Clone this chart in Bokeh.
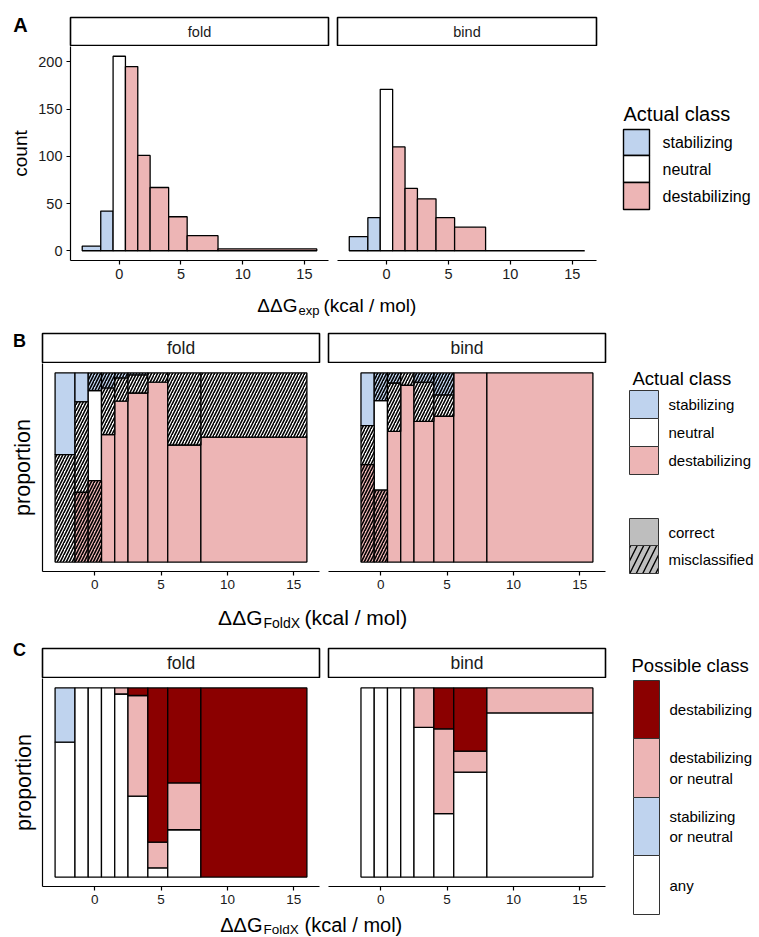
import numpy as np
from bokeh.plotting import figure
from bokeh.layouts import row, column
from bokeh.models import Range1d, FixedTicker, ColumnDataSource
from bokeh.embed import file_html
from bokeh.resources import INLINE
from bokeh.core.properties import value

FONT = "Liberation Sans"
BLUE = "#BFD3EE"
PINK = "#EDB5B5"
DARK = "#8B0000"
WHITE = "#FFFFFF"
GRAY = "#BEBEBE"

# ---------------- data ----------------
bin_left = [-3.0, -1.5, -0.5, 0.5, 1.5, 2.5, 4.0, 5.5, 8.0]
bin_right = [-1.5, -0.5, 0.5, 1.5, 2.5, 4.0, 5.5, 8.0, 16.0]
bin_class = ["stabilizing", "stabilizing", "neutral",
             "destabilizing", "destabilizing", "destabilizing",
             "destabilizing", "destabilizing", "destabilizing"]

# panel A: histogram counts of experimental ddG
count_fold = [5, 42, 206, 195, 101, 67, 36, 16, 2]
count_bind = [15, 35, 171, 110, 66, 55, 35, 25, 0]
count_ticks = [0, 50, 100, 150, 200]
x_ticks = [0, 5, 10, 15]

# panel B: proportion of actual class within FoldX bins
actual_classes = ["destabilizing", "neutral", "stabilizing"]   # bottom -> top
fold_stabilizing = [0.432, 0.153, 0.093, 0.079, 0.026, 0.010, 0.0, 0.0, 0.0]
fold_neutral = [0.568, 0.478, 0.476, 0.247, 0.123, 0.096, 0.049, 0.381, 0.339]
fold_destabilizing = [0.0, 0.369, 0.431, 0.674, 0.851, 0.894, 0.951, 0.619, 0.661]
bind_stabilizing = [0.0, 0.279, 0.146, 0.053, 0.0, 0.048, 0.116, 0.0, 0.0]
bind_neutral = [0.0, 0.206, 0.474, 0.256, 0.065, 0.208, 0.113, 0.0, 0.0]
bind_destabilizing = [0.0, 0.515, 0.380, 0.691, 0.935, 0.744, 0.771, 1.0, 1.0]

# panel C: proportion of possible class within FoldX bins
possible_classes = ["any", "stabilizing or neutral",
                    "destabilizing or neutral", "destabilizing"]  # bottom -> top
fold_any = [0.713, 1.0, 1.0, 1.0, 0.968, 0.428, 0.049, 0.250, 0.0]
fold_stab_or_neutral = [0.287, 0.0, 0.0, 0.0, 0.0, 0.0, 0.0, 0.0, 0.0]
fold_destab_or_neutral = [0.0, 0.0, 0.0, 0.0, 0.032, 0.532, 0.136, 0.248, 0.0]
fold_destab = [0.0, 0.0, 0.0, 0.0, 0.0, 0.040, 0.815, 0.502, 1.0]
bind_any = [0.0, 1.0, 1.0, 1.0, 1.0, 0.792, 0.335, 0.555, 0.868]
bind_stab_or_neutral = [0.0] * 9
bind_destab_or_neutral = [0.0, 0.0, 0.0, 0.0, 0.0, 0.208, 0.449, 0.111, 0.132]
bind_destab = [0.0, 0.0, 0.0, 0.0, 0.0, 0.0, 0.216, 0.334, 0.0]

ACTUAL_COLOR = {"stabilizing": BLUE, "neutral": WHITE, "destabilizing": PINK}
POSSIBLE_COLOR = {"any": WHITE, "stabilizing or neutral": BLUE,
                  "destabilizing or neutral": PINK, "destabilizing": DARK}

XR = (-3.95, 16.95)


def base(w, h, xr, yr, left=0, right=0, top=0, bottom=0, xloc=None, yloc=None, outline=None):
    p = figure(width=w, height=h, x_range=Range1d(*xr), y_range=Range1d(*yr),
               output_backend="svg", toolbar_location=None,
               min_border_left=left, min_border_right=right,
               min_border_top=top, min_border_bottom=bottom,
               x_axis_location=xloc, y_axis_location=yloc,
               outline_line_color=outline,
               background_fill_color="white", border_fill_color="white")
    p.xgrid.visible = False
    p.ygrid.visible = False
    return p


def style_axis(ax, fs, ticks):
    ax.ticker = FixedTicker(ticks=ticks)
    ax.axis_line_color = "black"
    ax.axis_line_width = 1.2
    ax.major_tick_line_color = "black"
    ax.major_tick_line_width = 1.2
    ax.major_tick_out = 4 if ticks else 0
    ax.major_tick_in = 0
    ax.minor_tick_line_color = None
    ax.major_label_text_font = FONT
    ax.major_label_text_font_size = f"{fs}px"
    ax.major_label_text_color = "#1a1a1a"
    ax.major_label_standoff = 4 if ticks else 0


def panel(frame_w, frame_h, left, right, bottom, yr, yaxis, yticks, fs):
    p = base(left + frame_w + right, frame_h + bottom, XR, yr, left, right, 0, bottom,
             xloc="below", yloc="left" if yaxis else None)
    style_axis(p.xaxis[0], fs, x_ticks)
    if yaxis:
        style_axis(p.yaxis[0], fs, yticks)
    return p


def strip(text, frame_w, left, right, top, frame_h, fs):
    p = base(left + frame_w + right, top + frame_h + 1, (0, 1), (0, 1), left, right, top, 1,
             outline="black")
    p.outline_line_width = 1.6
    p.text(x=[0.5], y=[0.5], text=[text], text_align="center", text_baseline="middle",
           text_font=value(FONT), text_font_size=f"{fs}px", text_color="#1a1a1a")
    return p


def pix(w, h):
    return base(w, h, (0, w), (0, h))


def txt(p, x, y, s, fs, align="left", baseline="middle", angle=0.0, bold=False):
    p.text(x=[x], y=[y], text=[s], text_align=align, text_baseline=baseline, angle=angle,
           text_font=value(FONT), text_font_size=f"{fs}px", text_color="black",
           text_font_style="bold" if bold else "normal")


def draw_hist(p, counts):
    src = ColumnDataSource(dict(left=bin_left, right=bin_right, top=counts,
                                bottom=[0] * len(counts),
                                color=[ACTUAL_COLOR[c] for c in bin_class]))
    p.quad(left="left", right="right", top="top", bottom="bottom", fill_color="color",
           line_color="black", line_width=1.3, source=src)


def draw_stack(p, props, order, colors, hatch_rule):
    plain = dict(left=[], right=[], top=[], bottom=[], color=[])
    hatched = dict(left=[], right=[], top=[], bottom=[], color=[])
    for i in range(len(bin_left)):
        b = 0.0
        for cls in order:
            h = props[cls][i]
            if h > 0:
                d = hatched if hatch_rule(cls, i) else plain
                d["left"].append(bin_left[i]); d["right"].append(bin_right[i])
                d["bottom"].append(b); d["top"].append(b + h)
                d["color"].append(colors[cls])
            b += h
    p.quad(left="left", right="right", top="top", bottom="bottom", fill_color="color",
           line_color="black", line_width=1.3, source=ColumnDataSource(plain))
    if hatched["left"]:
        p.quad(left="left", right="right", top="top", bottom="bottom", fill_color="color",
               line_color="black", line_width=1.3, hatch_pattern="/", hatch_color="black",
               hatch_scale=6, hatch_weight=1.6, source=ColumnDataSource(hatched))


def mis(cls, i):
    return cls != bin_class[i]


def nomis(cls, i):
    return False


def title_fig(w, h, x_main, y_main, y_sub, sub, fs, fs_sub):
    p = pix(w, h)
    txt(p, x_main, y_main, "\u0394\u0394G", fs, align="right", baseline="alphabetic")
    txt(p, x_main + 1, y_sub, sub, fs_sub, align="left", baseline="alphabetic")
    sub_w = {"exp": 25, "FoldX": 41}[sub]
    txt(p, x_main + sub_w + 1, y_main, "(kcal / mol)", fs, align="left", baseline="alphabetic")
    return p


def legend_fig(w, h, x0, ybase, title, title_xy, fs_title, entries, fs_lab, lw, lc):
    """entries: (label, color, hatch, (x1, x2), (y1, y2), label_x) in page coords"""
    p = pix(w, h)
    txt(p, title_xy[0] - x0, ybase - title_xy[1], title, fs_title, baseline="alphabetic")
    for lab, col, hatch, (xa, xb), (ya, yb), lx in entries:
        kw = {}
        if hatch:
            kw = dict(hatch_pattern="/", hatch_color="black", hatch_scale=13, hatch_weight=1.4)
        p.quad(left=[xa - x0], right=[xb - x0], top=[ybase - ya], bottom=[ybase - yb],
               fill_color=col, line_color=lc, line_width=lw, **kw)
        txt(p, lx - x0, ybase - (ya + yb) / 2, lab, fs_lab)
    return p


# ---------------- row A (page y 0 -> 320) ----------------
yrA = (-10.3, 216.3)
stripAf = strip("fold", 259, 34, 4, 17, 28, 14.5)
stripAb = strip("bind", 259, 5, 4, 17, 28, 14.5)
panAf = panel(259, 214, 34, 4, 27, yrA, True, count_ticks, 14.5)
panAb = panel(259, 214, 5, 4, 27, yrA, False, [], 14.5)
draw_hist(panAf, count_fold)
draw_hist(panAb, count_bind)
titA = title_fig(565, 33, 262, 15, 10.5, "exp", 19, 13)
labA = pix(35, 320)
txt(labA, 20, 320 - 24.5, "A", 20, align="center", bold=True)
txt(labA, 20, 320 - 153, "count", 19, align="center", angle=np.pi / 2)
legA = legend_fig(159, 320, 600, 320, "Actual class", (623, 113), 20, [
    ("stabilizing", BLUE, False, (623, 649), (129, 155), 662),
    ("neutral", WHITE, False, (623, 649), (155, 182), 662),
    ("destabilizing", PINK, False, (623, 649), (182, 209), 662),
], 16, 1.4, "black")
rowA = row(labA, column(row(column(stripAf, panAf), column(stripAb, panAb)), titA), legA)

# ---------------- row B (page y 320 -> 636) ----------------
yrP = (-0.05, 1.05)
stripBf = strip("fold", 277, 2, 4, 13, 29, 17.5)
stripBb = strip("bind", 277, 5, 4, 13, 29, 17.5)
panBf = panel(277, 208, 2, 4, 25, yrP, True, [], 13.5)
panBb = panel(277, 208, 5, 4, 25, yrP, False, [], 13.5)
draw_stack(panBf, {"stabilizing": fold_stabilizing, "neutral": fold_neutral,
                   "destabilizing": fold_destabilizing}, actual_classes, ACTUAL_COLOR, mis)
draw_stack(panBb, {"stabilizing": bind_stabilizing, "neutral": bind_neutral,
                   "destabilizing": bind_destabilizing}, actual_classes, ACTUAL_COLOR, mis)
titB = title_fig(569, 40, 222, 19, 14, "FoldX", 21, 14)
labB = pix(40, 316)
txt(labB, 19, 636 - 340.3, "B", 18, align="center", bold=True)
txt(labB, 22.5, 636 - 467, "proportion", 21.5, align="center", angle=np.pi / 2)
legB = legend_fig(150, 316, 609, 636, "Actual class", (632, 378), 18.5, [
    ("stabilizing", BLUE, False, (629, 658), (390, 418), 668),
    ("neutral", WHITE, False, (629, 658), (418, 446), 668),
    ("destabilizing", PINK, False, (629, 658), (446, 474), 668),
    ("correct", GRAY, False, (629, 658), (518, 545), 668),
    ("misclassified", GRAY, True, (629, 658), (545, 573), 668),
], 15, 1.0, "#333333")
rowB = row(labB, column(row(column(stripBf, panBf), column(stripBb, panBb)), titB), legB)

# ---------------- row C (page y 636 -> 937) ----------------
stripCf = strip("fold", 277, 2, 4, 12, 29, 17.5)
stripCb = strip("bind", 277, 5, 4, 12, 29, 17.5)
panCf = panel(277, 208, 2, 4, 23, yrP, True, [], 13.5)
panCb = panel(277, 208, 5, 4, 23, yrP, False, [], 13.5)
draw_stack(panCf, {"any": fold_any, "stabilizing or neutral": fold_stab_or_neutral,
                   "destabilizing or neutral": fold_destab_or_neutral,
                   "destabilizing": fold_destab}, possible_classes, POSSIBLE_COLOR, nomis)
draw_stack(panCb, {"any": bind_any, "stabilizing or neutral": bind_stab_or_neutral,
                   "destabilizing or neutral": bind_destab_or_neutral,
                   "destabilizing": bind_destab}, possible_classes, POSSIBLE_COLOR, nomis)
titC = title_fig(569, 28, 222, 937 - 924.5, 937 - 928.5, "FoldX", 20, 13.5)
labC = pix(40, 301)
txt(labC, 19, 937 - 649, "C", 18, align="center", bold=True)
txt(labC, 23, 937 - 782, "proportion", 21.5, align="center", angle=np.pi / 2)
legC = legend_fig(150, 301, 609, 937, "Possible class", (631, 665), 18.5, [
    ("destabilizing", DARK, False, (633, 659), (680, 738), 669),
    ("destabilizing\nor neutral", PINK, False, (633, 659), (738, 797), 669),
    ("stabilizing\nor neutral", BLUE, False, (633, 659), (797, 855), 669),
    ("any", WHITE, False, (633, 659), (855, 914), 669),
], 15, 1.0, "#333333")
rowC = row(labC, column(row(column(stripCf, panCf), column(stripCb, panCb)), titC), legC)

layout = column(rowA, rowB, rowC)
open("out.html", "w").write(file_html(layout, INLINE))
